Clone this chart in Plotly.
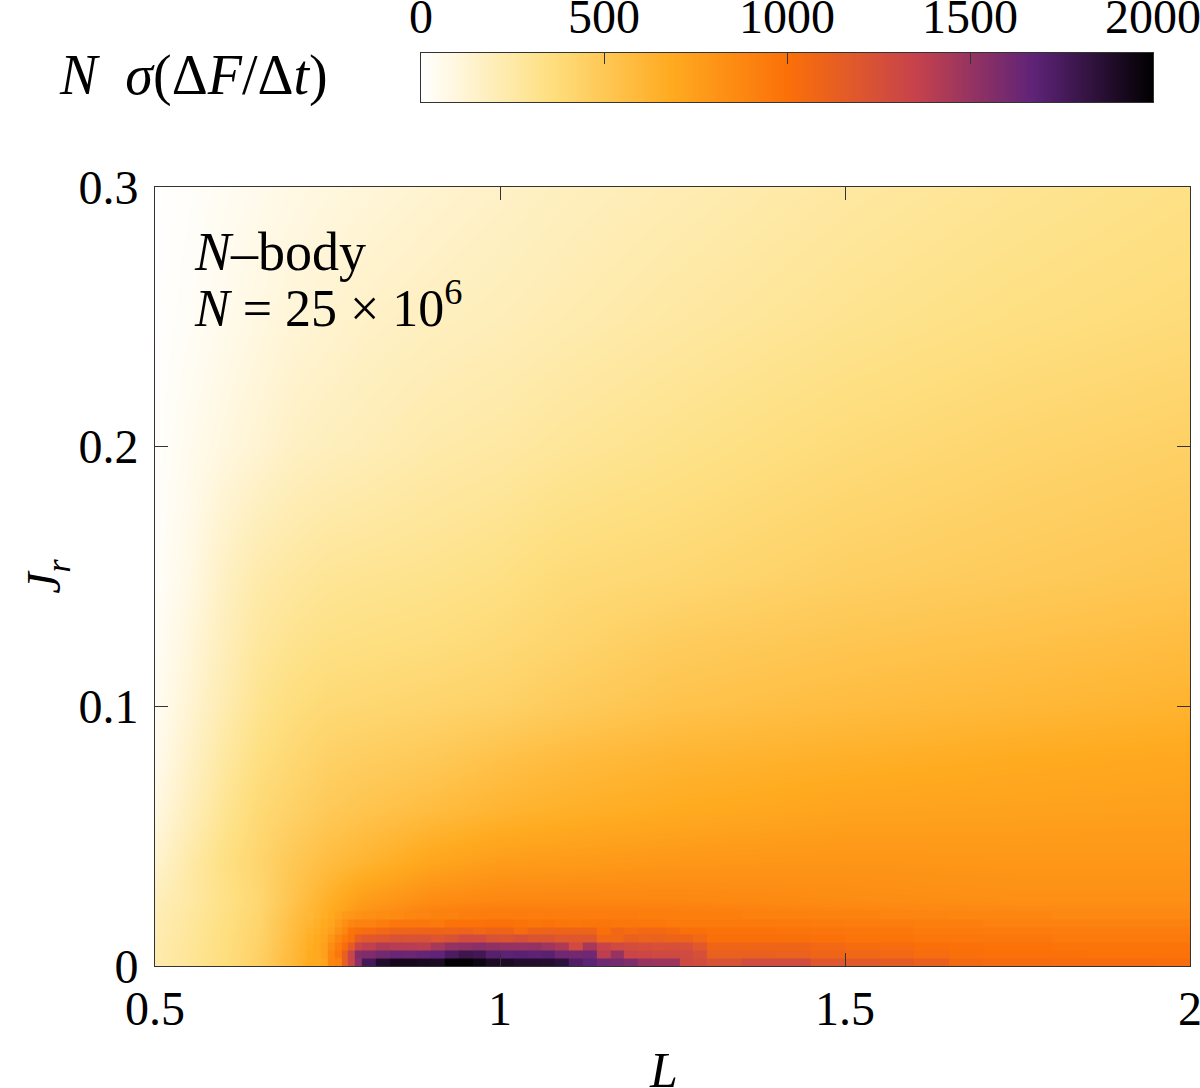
import plotly.graph_objects as go

FONT = "Liberation Serif"

# Broad field: cell-centre samples, smoothed by the library
field_L = [0.5, 0.55, 0.6, 0.65, 0.7, 0.75, 0.8, 0.9, 1.0, 1.1, 1.25, 1.5, 1.75, 2.0]
field_Jr = [0.0015, 0.006, 0.012, 0.018, 0.025, 0.04, 0.06, 0.08, 0.1, 0.125, 0.15, 0.2, 0.25, 0.3]
field_z = [
    [230, 290, 360, 450, 600, 760, 1200, 1900, 1900, 1700, 1350, 1150, 1040, 1020],
    [225, 285, 355, 440, 590, 750, 1150, 1600, 1650, 1600, 1300, 1120, 1010, 1000],
    [215, 280, 350, 430, 575, 720, 1000, 1200, 1200, 1150, 1090, 1040, 970, 950],
    [205, 270, 340, 420, 560, 690, 830, 950, 990, 960, 960, 930, 900, 900],
    [190, 255, 330, 405, 530, 650, 760, 850, 880, 880, 880, 850, 830, 830],
    [130, 245, 340, 420, 500, 570, 620, 710, 760, 770, 790, 800, 790, 790],
    [80, 190, 300, 390, 440, 490, 520, 570, 620, 650, 680, 720, 730, 740],
    [50, 155, 260, 350, 400, 440, 460, 490, 540, 580, 620, 650, 680, 700],
    [35, 125, 220, 310, 360, 390, 400, 420, 440, 480, 530, 570, 600, 630],
    [25, 100, 190, 270, 310, 335, 345, 360, 385, 420, 470, 510, 540, 570],
    [15, 75, 165, 235, 265, 290, 300, 315, 340, 380, 400, 450, 480, 510],
    [8, 50, 90, 125, 165, 185, 200, 235, 255, 285, 320, 375, 415, 445],
    [5, 25, 55, 85, 110, 130, 150, 175, 195, 220, 255, 305, 345, 375],
    [3, 15, 35, 55, 75, 90, 105, 130, 155, 180, 210, 260, 300, 335],
]

# Low-Jr band: cell edges and per-cell values
band_L_edges = [0.72, 0.73, 0.74, 0.75, 0.76, 0.77, 0.78, 0.79, 0.80,
                0.82, 0.84, 0.86, 0.88, 0.90, 0.92, 0.94, 0.96, 0.98, 1.00,
                1.02, 1.04, 1.06, 1.08, 1.10, 1.12, 1.14, 1.16, 1.18, 1.20,
                1.22, 1.24, 1.26, 1.28, 1.30,
                1.35, 1.40, 1.45, 1.50, 1.55, 1.60, 1.65, 1.70, 1.75, 1.80, 1.85, 1.90, 1.95, 2.00]
band_Jr_edges = [0.0, 0.003, 0.006, 0.009, 0.012, 0.015, 0.018, 0.021]
band_z = [
    [680, 690, 720, 880, 900, 1130, 1330, 1530,
     1760, 1880, 1920, 1920, 1910, 1900, 1990, 1990, 1950, 1900, 1900, 1880, 1880, 1870, 1840,
     1720, 1680, 1620, 1600, 1570, 1500, 1480, 1480, 1300, 1280,
     1230, 1280, 1280, 1190, 1170, 1150, 1120, 1050, 1040, 1040, 1030, 1030, 1030, 1020],
    [680, 690, 740, 880, 960, 1130, 1330, 1560,
     1570, 1610, 1640, 1630, 1650, 1670, 1740, 1790, 1770, 1700, 1680, 1690, 1680, 1690, 1620,
     1610, 1620, 1380, 1500, 1330, 1310, 1300, 1300, 1290, 1250,
     1120, 1120, 1110, 1080, 1070, 1060, 1030, 1010, 1000, 1000, 1000, 990, 990, 990],
    [670, 690, 730, 850, 930, 1030, 1150, 1330,
     1370, 1420, 1400, 1400, 1380, 1450, 1510, 1520, 1540, 1520, 1510, 1500, 1510, 1470, 1430,
     1290, 1450, 1340, 1290, 1270, 1260, 1240, 1250, 1240, 1180,
     1080, 1080, 1080, 1060, 1040, 1030, 1010, 1000, 990, 990, 980, 980, 980, 980],
    [660, 680, 720, 800, 880, 950, 1010, 1140,
     1180, 1200, 1230, 1220, 1230, 1200, 1230, 1280, 1280, 1230, 1210, 1250, 1210, 1210, 1190,
     1190, 1190, 1070, 1070, 1120, 1100, 1110, 1090, 1090, 1060,
     1010, 1010, 1010, 1000, 980, 980, 960, 960, 960, 960, 950, 950, 950, 950],
    [640, 670, 700, 740, 820, 880, 980, 1010,
     1030, 1060, 1080, 1080, 1090, 1090, 1080, 1100, 1070, 1090, 1090, 1040, 1090, 1100, 1090,
     1090, 1090, 1010, 1070, 1040, 1060, 1050, 1040, 1010, 1010,
     990, 990, 980, 970, 960, 960, 950, 950, 940, 940, 930, 930, 930, 930],
    [620, 650, 680, 720, 780, 830, 880, 900,
     900, 930, 960, 960, 960, 950, 990, 990, 990, 1000, 1000, 990, 970, 990, 970,
     960, 970, 970, 960, 960, 960, 960, 950, 950, 950,
     950, 950, 950, 940, 930, 930, 920, 920, 910, 910, 910, 900, 900, 900],
    [600, 630, 660, 690, 730, 770, 790, 810,
     830, 850, 860, 880, 890, 900, 900, 920, 930, 930, 930, 930, 930, 930, 930,
     930, 930, 930, 930, 930, 920, 920, 920, 920, 920,
     920, 910, 910, 900, 900, 890, 890, 880, 880, 880, 870, 870, 870, 870],
]

x_tick_vals = [0.5, 1, 1.5, 2]
x_tick_text = ["0.5", "1", "1.5", "2"]
y_tick_vals = [0, 0.1, 0.2, 0.3]
y_tick_text = ["0", "0.1", "0.2", "0.3"]
cbar_tick_vals = [0, 500, 1000, 1500, 2000]
cbar_tick_text = ["0", "500", "1000", "1500", "2000"]
cbar_levels = [0, 250, 500, 750, 1000, 1250, 1500, 1750, 2000]
cbar_rows = [0, 1]

palette = [
    [0.0, "#ffffff"], [0.173, "#fee082"], [0.34, "#ffab20"],
    [0.5, "#fb7008"], [0.675, "#c6424c"], [0.835, "#5f2378"], [1.0, "#000000"],
]

W, H = 1200, 1088

fig = go.Figure()
fig.add_trace(go.Heatmap(x=field_L, y=field_Jr, z=field_z, coloraxis="coloraxis",
                         zsmooth="best", name="field"))
fig.add_trace(go.Heatmap(x=band_L_edges, y=band_Jr_edges, z=band_z, coloraxis="coloraxis",
                         name="band"))
fig.add_trace(go.Heatmap(x=cbar_levels, y=cbar_rows, z=[cbar_levels for _ in cbar_rows],
                         coloraxis="coloraxis", zsmooth="best", xaxis="x2", yaxis="y2",
                         name="scale"))

axis_common = dict(showline=True, linecolor="#333333", linewidth=1,
                   tickcolor="#333333", tickwidth=1,
                   showgrid=False, zeroline=False, automargin=False,
                   ticklabeloverflow="allow",
                   tickfont=dict(family=FONT, size=48, color="black"))

fig.update_layout(
    width=W, height=H,
    margin=dict(l=0, r=0, t=0, b=0),
    paper_bgcolor="white", plot_bgcolor="white",
    showlegend=False,
    font=dict(family=FONT, color="black"),
    coloraxis=dict(colorscale=palette, cmin=0, cmax=2000, showscale=False),
    xaxis=dict(range=[0.5, 2], domain=[155 / W, 1190 / W], anchor="y",
               tickvals=x_tick_vals, ticktext=x_tick_text,
               ticks="inside", ticklen=13, mirror="ticks",
               **axis_common),
    yaxis=dict(range=[0, 0.3], domain=[(H - 966) / H, (H - 187) / H], anchor="x",
               tickvals=y_tick_vals, ticktext=y_tick_text,
               ticks="inside", ticklen=13, mirror="ticks", ticklabelstandoff=6,
               title=dict(text="<i>J<sub>r</sub></i>", font=dict(family=FONT, size=48), standoff=2),
               **axis_common),
    xaxis2=dict(range=[0, 2000], domain=[421 / W, 1153 / W], anchor="y2", side="top",
                tickvals=cbar_tick_vals, ticktext=cbar_tick_text,
                ticks="inside", ticklen=11, mirror=True,
                **axis_common),
    yaxis2=dict(range=[0, 1], domain=[(H - 102) / H, (H - 53) / H], anchor="x2",
                showticklabels=False, ticks="", mirror=True,
                showline=True, linecolor="#333333", linewidth=1,
                showgrid=False, zeroline=False),
    annotations=[
        dict(text="<i>L</i>", xref="paper", yref="paper", x=663 / W, y=(H - 1070) / H,
             xanchor="center", yanchor="middle", showarrow=False,
             font=dict(family=FONT, size=50, color="black")),
        dict(text="<i>N</i>–body", xref="paper", yref="paper", x=192 / W, y=(H - 252) / H,
             xanchor="left", yanchor="middle", showarrow=False,
             font=dict(family=FONT, size=54, color="black")),
        dict(text="<i>N</i> = 25 × 10<sup>6</sup>", xref="paper", yref="paper", x=192 / W, y=(H - 305) / H,
             xanchor="left", yanchor="middle", showarrow=False,
             font=dict(family=FONT, size=52, color="black")),
        dict(text="<i>N</i>\u2002<i>σ</i>(Δ<i>F</i>/Δ<i>t</i>)", xref="paper", yref="paper",
             x=330 / W, y=(H - 76) / H,
             xanchor="right", yanchor="middle", showarrow=False,
             font=dict(family=FONT, size=56, color="black")),
    ],
)

fig.write_html("out.html", config=dict(displayModeBar=False),
               post_script="document.body.style.margin='0px';")
